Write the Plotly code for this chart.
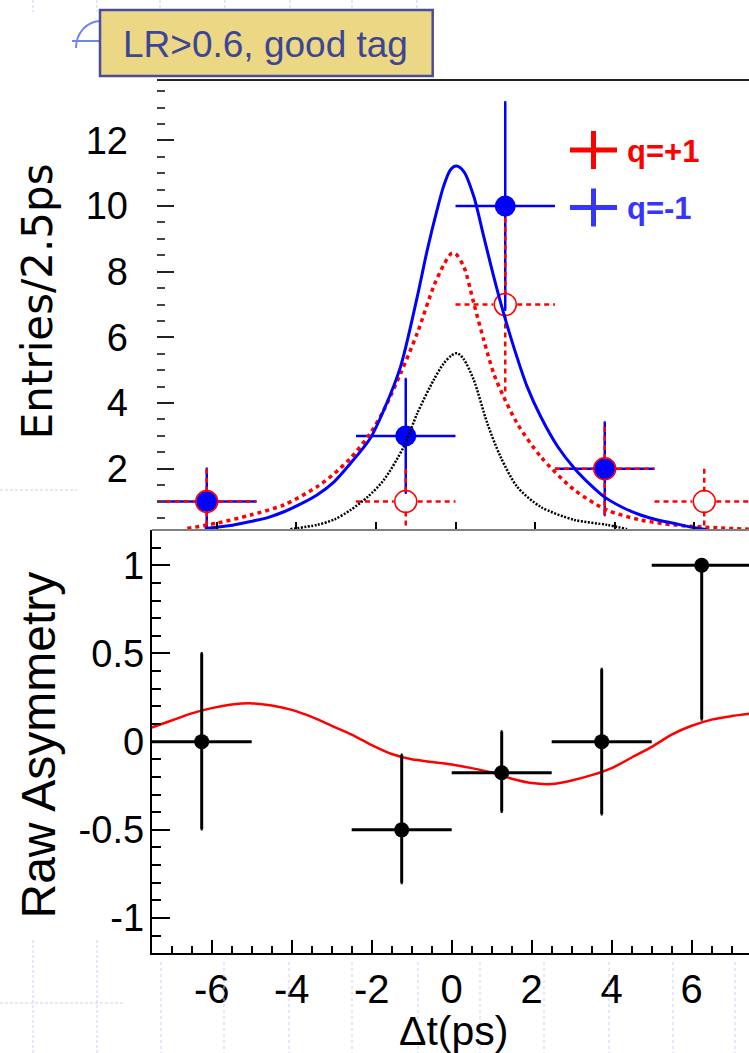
import plotly.graph_objects as go

# ---------------- data ----------------
half_bin = 1.25  # bin width 2.5 ps

# q = -1 (blue, filled)
qm_x = [-6.25, -1.25, 1.25, 3.75]
qm_n = [1, 3, 10, 2]
qm_err = [1.0, 1.73, 3.16, 1.41]

# q = +1 (red, open)
qp_x = [-6.25, -1.25, 1.25, 3.75, 6.25]
qp_n = [1, 1, 7, 2, 1]
qp_err = [1.0, 1.0, 2.65, 1.41, 1.0]

# fit curves
blue_fit_x = [-6.3, -5.6, -5.15, -4.7, -4.31, -3.9, -3.48, -3.05, -2.64, -2.14, -1.8, -1.38,
              -0.96, -0.71, -0.46, -0.3, -0.13, 0.02, 0.21, 0.46, 0.71, 0.96, 1.21, 1.46,
              1.8, 2.14, 2.57, 2.99, 3.4, 3.73, 4.2, 4.65, 5.1, 5.48, 6.0, 6.3]
blue_fit_y = [0.18, 0.28, 0.39, 0.52, 0.69, 0.92, 1.2, 1.6, 2.16, 2.93, 3.79, 5.11,
              7.24, 8.66, 9.9, 10.6, 11.1, 11.22, 11.05, 10.29, 9.07, 7.85, 6.73, 5.72,
              4.5, 3.59, 2.67, 2.01, 1.5, 1.15, 0.82, 0.59, 0.43, 0.34, 0.2, 0.15]

red_fit_x = [-6.74, -6.0, -5.15, -4.31, -3.48, -3.05, -2.64, -2.14, -1.8, -1.38, -0.96,
             -0.55, -0.3, -0.1, 0.0, 0.21, 0.46, 0.71, 0.96, 1.21, 1.55, 2.14, 2.99, 3.81,
             4.65, 5.48, 6.57, 7.5]
red_fit_y = [0.18, 0.34, 0.59, 0.9, 1.45, 1.85, 2.32, 3.08, 3.79, 4.9, 6.13,
             7.55, 8.2, 8.56, 8.55, 8.15, 7.04, 5.92, 4.9, 4.19, 3.38, 2.37, 1.35, 0.74,
             0.44, 0.29, 0.2, 0.15]

bkg_fit_x = [-4.15, -3.48, -3.05, -2.64, -2.2, -1.8, -1.3, -0.96, -0.55, -0.3, -0.1, 0.04,
             0.2, 0.46, 0.8, 1.13, 1.55, 2.14, 2.99, 3.81, 4.31]
bkg_fit_y = [0.16, 0.29, 0.45, 0.74, 1.15, 1.66, 2.67, 3.69, 4.7, 5.2, 5.45, 5.52,
             5.35, 4.7, 3.38, 2.37, 1.45, 0.84, 0.44, 0.29, 0.16]

# raw asymmetry
asym_x = [-6.25, -1.25, 1.25, 3.75, 6.25]
asym_y = [0.0, -0.5, -0.176, 0.0, 1.0]
asym_err_up = [0.5, 0.425, 0.232, 0.41, 0.0]
asym_err_dn = [0.495, 0.30, 0.22, 0.41, 0.873]

asym_fit_x = [-7.5, -7.0, -6.5, -6.0, -5.5, -5.0, -4.5, -4.0, -3.5, -3.0, -2.5, -2.0, -1.5,
              -1.0, -0.5, 0.0, 0.5, 1.0, 1.5, 2.0, 2.5, 3.0, 3.5, 4.0, 4.5, 5.0, 5.5, 6.0,
              6.5, 7.0, 7.5]
asym_fit_y = [0.08, 0.12, 0.16, 0.19, 0.21, 0.217, 0.205, 0.18, 0.14, 0.09, 0.04, -0.02,
              -0.07, -0.10, -0.115, -0.13, -0.15, -0.175, -0.21, -0.235, -0.24, -0.22,
              -0.19, -0.15, -0.09, -0.03, 0.04, 0.09, 0.125, 0.145, 0.16]

# tick labels
x_tickvals = [-6, -4, -2, 0, 2, 4, 6]
x_ticktext = ["-6", "-4", "-2", "0", "2", "4", "6"]
top_tickvals = [2, 4, 6, 8, 10, 12]
top_ticktext = ["2", "4", "6", "8", "10", "12"]
bot_tickvals = [-1, -0.5, 0, 0.5, 1]
bot_ticktext = ["-1", "-0.5", "0", "0.5", "1"]

# ---------------- helpers ----------------
W, H = 749, 1053


def px(x):
    return x / W


def py(y):
    return 1 - y / H


def segments(xs, ys, errs, hb, gx, gy):
    """Error-bar segments (horizontal + vertical) from data arrays, leaving a gap
    of gx / gy (axis units) around the marker, like ROOT does."""
    sx, sy = [], []
    for x, y, e in zip(xs, ys, errs):
        sx += [x - hb, x - gx, None, x + gx, x + hb, None,
               x, x, None, x, x, None]
        sy += [y, y, None, y, y, None,
               y - e, y - gy, None, y + gy, y + e, None]
    return sx, sy


FONT = "Liberation Sans, Arial, Helvetica, sans-serif"
BLUE = "#0000ff"
RED = "#ff0000"
LEG_BLUE = "#3535ff"

fig = go.Figure()

# ---- top panel: q=-1 data (blue, solid bars) ----
fig.add_trace(go.Scatter(
    x=qm_x, y=qm_n, mode="markers", xaxis="x2", yaxis="y2",
    marker=dict(symbol="circle", size=21, color=BLUE),
    error_x=dict(type="constant", value=half_bin, color=BLUE, thickness=2.5, width=0),
    error_y=dict(type="data", array=qm_err, color=BLUE, thickness=2.5, width=1),
))

# ---- top panel: q=+1 data (red, dotted bars, open markers) ----
rsx, rsy = segments(qp_x, qp_n, qp_err, half_bin, 0.3, 0.3)
fig.add_trace(go.Scatter(
    x=rsx, y=rsy, mode="lines", xaxis="x2", yaxis="y2",
    line=dict(color=RED, width=2.5, dash="5px,4px"), hoverinfo="skip",
))
fig.add_trace(go.Scatter(
    x=qp_x, y=qp_n, mode="markers", xaxis="x2", yaxis="y2",
    marker=dict(symbol="circle-open", size=22, color=RED, line=dict(width=1.5, color=RED)),
))

# ---- fit curves ----
fig.add_trace(go.Scatter(
    x=bkg_fit_x, y=bkg_fit_y, mode="lines", xaxis="x2", yaxis="y2",
    line=dict(color="black", width=2.5, dash="2px,1.5px", shape="spline", smoothing=0.8),
))
fig.add_trace(go.Scatter(
    x=red_fit_x, y=red_fit_y, mode="lines", xaxis="x2", yaxis="y2",
    line=dict(color=RED, width=3.5, dash="4px,4px", shape="spline", smoothing=0.8),
))
fig.add_trace(go.Scatter(
    x=blue_fit_x, y=blue_fit_y, mode="lines", xaxis="x2", yaxis="y2",
    line=dict(color=BLUE, width=3, shape="spline", smoothing=0.8),
))

# ---- bottom panel: asymmetry ----
fig.add_trace(go.Scatter(
    x=asym_fit_x, y=asym_fit_y, mode="lines", xaxis="x", yaxis="y",
    line=dict(color=RED, width=2.5, shape="spline", smoothing=0.8),
))
fig.add_trace(go.Scatter(
    x=asym_x, y=asym_y, mode="markers", xaxis="x", yaxis="y",
    marker=dict(symbol="circle", size=15, color="black"),
    error_x=dict(type="constant", value=half_bin, color="black", thickness=3, width=0),
    error_y=dict(type="data", symmetric=False, array=asym_err_up, arrayminus=asym_err_dn,
                 color="black", thickness=3, width=1),
))

tickfont_y = dict(family=FONT, size=38, color="black")

fig.update_layout(
    width=W, height=H, autosize=False,
    margin=dict(l=0, r=0, t=0, b=0, pad=0),
    paper_bgcolor="white", plot_bgcolor="white",
    showlegend=False,
    xaxis=dict(
        domain=[px(151.7), 1.0], range=[-7.5, -7.5 + (W - 151.7) / 40.0], anchor="y",
        showline=True, linecolor="black", linewidth=2, mirror=False,
        ticks="inside", ticklen=13, tickwidth=1.5, tickcolor="black",
        tickmode="array", tickvals=x_tickvals, ticktext=x_ticktext,
        minor=dict(tickmode="linear", tick0=0, dtick=0.5, ticks="inside", ticklen=7,
                   tickwidth=1.5, tickcolor="black"),
        tickfont=dict(family=FONT, size=40, color="black"), ticklabelstandoff=0,
        showgrid=False, zeroline=False, automargin=False,
    ),
    yaxis=dict(
        domain=[py(953.3), py(530)], range=[-1.2, 1.2], anchor="x",
        showline=True, linecolor="black", linewidth=2,
        ticks="inside", ticklen=18, tickwidth=1.5, tickcolor="black",
        tickmode="array", tickvals=bot_tickvals, ticktext=bot_ticktext,
        minor=dict(tickmode="linear", tick0=0, dtick=0.1, ticks="inside", ticklen=9,
                   tickwidth=1.5, tickcolor="black"),
        tickfont=tickfont_y, ticklabelstandoff=-2,
        showgrid=False, zeroline=False, automargin=False,
    ),
    xaxis2=dict(
        domain=[px(157), 1.0], range=[-7.5, -7.5 + (W - 157) / 39.8], anchor="y2",
        showline=False, ticks="inside", ticklen=7, tickwidth=1.5, tickcolor="black",
        tickmode="array", tickvals=x_tickvals, showticklabels=False,
        showgrid=False, zeroline=False, automargin=False,
    ),
    yaxis2=dict(
        domain=[py(529.3), py(80)], range=[0.155, 13.84], anchor="x2",
        showline=False,
        ticks="inside", ticklen=17, tickwidth=1.5, tickcolor="#222",
        tickmode="array", tickvals=top_tickvals, ticktext=top_ticktext,
        minor=dict(tickmode="linear", tick0=0, dtick=0.5, ticks="inside", ticklen=8,
                   tickwidth=1.5, tickcolor="#444"),
        tickfont=tickfont_y, ticklabelstandoff=28,
        showgrid=False, zeroline=False, automargin=False,
    ),
)

shapes = []
# faint slide-template dashed lines (outside plot areas)
grid_col = "#c9d1f2"
for gx in [33, 97]:
    shapes.append(dict(type="line", xref="paper", yref="paper", x0=px(gx), x1=px(gx),
                       y0=py(940), y1=py(1053), line=dict(color=grid_col, width=1, dash="3px,2px")))
for gx in [33, 97, 160, 225, 290, 352, 417]:
    shapes.append(dict(type="line", xref="paper", yref="paper", x0=px(gx), x1=px(gx),
                       y0=py(0), y1=py(12), line=dict(color=grid_col, width=1, dash="3px,2px")))
for gx in [161, 224, 289, 352, 418, 480, 544, 609, 673, 735]:
    shapes.append(dict(type="line", xref="paper", yref="paper", x0=px(gx), x1=px(gx),
                       y0=py(962), y1=py(1053), line=dict(color=grid_col, width=1, dash="3px,3px")))
for gy, gx1 in [(490, 77), (1003, 125)]:
    shapes.append(dict(type="line", xref="paper", yref="paper", x0=0, x1=px(gx1),
                       y0=py(gy), y1=py(gy), line=dict(color=grid_col, width=1, dash="3px,2px")))

# panel borders
shapes.append(dict(type="line", xref="paper", yref="paper", x0=px(157), x1=1.0,
                   y0=py(80), y1=py(80), line=dict(color="#222", width=2)))
shapes.append(dict(type="line", xref="paper", yref="paper", x0=px(151.7), x1=1.0,
                   y0=py(530), y1=py(530), line=dict(color="#808080", width=2)))

# blue slide bullet glyph
bc = "#6f86f0"
shapes.append(dict(type="path", xref="paper", yref="paper",
                   path=f"M {px(76)},{py(48)} C {px(76)},{py(33)} {px(87)},{py(21)} {px(101)},{py(21)}",
                   line=dict(color=bc, width=2)))
shapes.append(dict(type="line", xref="paper", yref="paper", x0=px(72), x1=px(101),
                   y0=py(41), y1=py(41), line=dict(color=bc, width=2)))

# label box
shapes.append(dict(type="rect", xref="paper", yref="paper", x0=px(100), x1=px(432.7),
                   y0=py(76), y1=py(10), fillcolor="#ebd784",
                   line=dict(color="#4a4c9c", width=2.5)))

# legend crosses
for cy, col in [(150, RED), (207.5, LEG_BLUE)]:
    shapes.append(dict(type="line", xref="paper", yref="paper", x0=px(570), x1=px(617),
                       y0=py(cy), y1=py(cy), line=dict(color=col, width=5)))
    shapes.append(dict(type="line", xref="paper", yref="paper", x0=px(593.5), x1=px(593.5),
                       y0=py(cy - 19), y1=py(cy + 19), line=dict(color=col, width=5)))

fig.update_layout(shapes=shapes)

annotations = [
    dict(text="LR>0.6, good tag", x=px(265), y=py(45), xref="paper", yref="paper",
         showarrow=False, xanchor="center", yanchor="middle",
         font=dict(family=FONT, size=37, color="#3d4595")),
    dict(text="<b>q=+1</b>", x=px(625), y=py(151.5), xref="paper", yref="paper",
         showarrow=False, xanchor="left", yanchor="middle",
         font=dict(family=FONT, size=31, color=RED)),
    dict(text="<b>q=-1</b>", x=px(625), y=py(208.5), xref="paper", yref="paper",
         showarrow=False, xanchor="left", yanchor="middle",
         font=dict(family=FONT, size=31, color=LEG_BLUE)),
    dict(text="Entries/2.5ps", x=px(37.5), y=py(301.7), xref="paper", yref="paper",
         showarrow=False, xanchor="center", yanchor="middle", textangle=-90,
         font=dict(family="DejaVu Sans, sans-serif", size=42, color="black")),
    dict(text="Raw Asymmetry", x=px(37.5), y=py(745), xref="paper", yref="paper",
         showarrow=False, xanchor="center", yanchor="middle", textangle=-90,
         font=dict(family=FONT, size=48, color="black")),
    dict(text="\u0394t(ps)", x=px(453.5), y=py(1031), xref="paper", yref="paper",
         showarrow=False, xanchor="center", yanchor="middle",
         font=dict(family=FONT, size=41, color="black")),
]
fig.update_layout(annotations=annotations)

fig.write_html(
    "out.html",
    config={"displayModeBar": False},
    post_script="document.body.style.margin='0px';document.body.style.overflow='hidden';",
)
